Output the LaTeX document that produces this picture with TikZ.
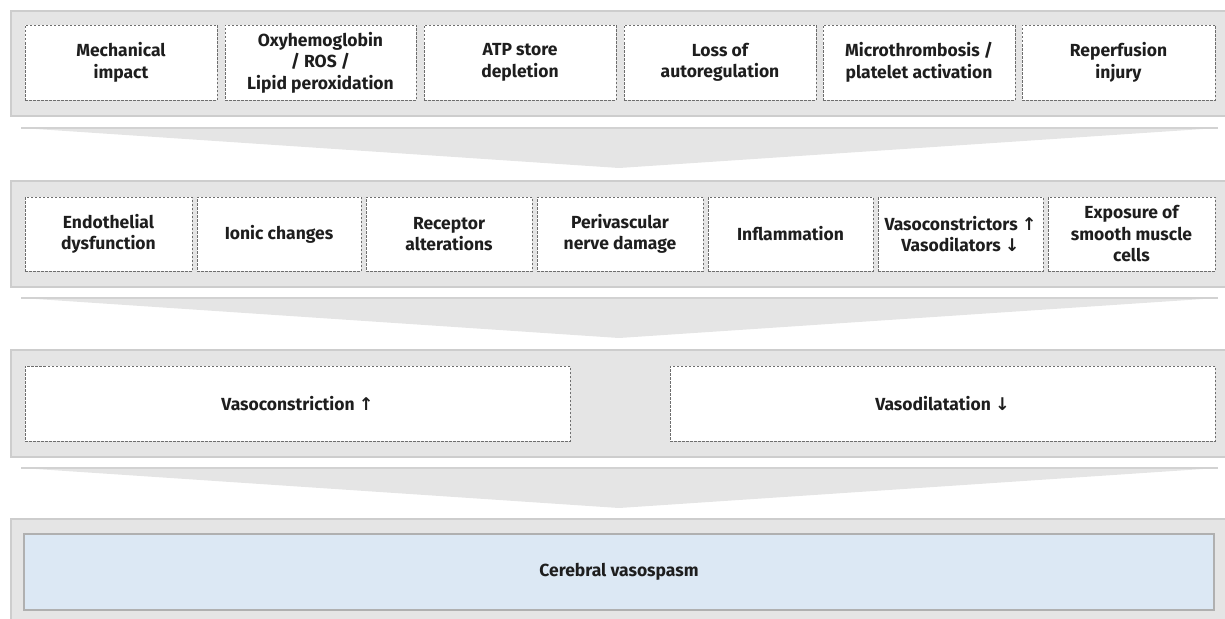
\documentclass[tikz,border=0pt]{standalone}
\usepackage{fontspec}
\setmainfont{Fira Sans}
\newfontfamily\arrowfont{DejaVu Sans}
\begin{document}
\begin{tikzpicture}[x=1pt,y=-1pt,
  panel/.style={fill=panelgray,draw=panelline,line width=1.2pt},
  cbox/.style={draw=dashgray,dashed,dash pattern=on 2.5pt off 1.5pt,fill=white,line width=0.9pt,
    align=center,text=textdark,font=\bfseries\fontsize{17.5}{21.5}\selectfont,inner sep=1pt},
  endbox/.style={draw=endline,fill=endblue,line width=1.2pt,align=center,text=textdark,
    font=\bfseries\fontsize{17.5}{21.5}\selectfont},
  funnel/.style={fill=panelgray},
  funneledge/.style={draw=funnelline,line width=1.2pt}]
\definecolor{panelgray}{HTML}{E5E5E5}
\definecolor{panelline}{HTML}{CDCDCD}
\definecolor{dashgray}{HTML}{6E6E6E}
\definecolor{endblue}{HTML}{DCE8F4}
\definecolor{endline}{HTML}{B0B0B0}
\definecolor{funnelline}{HTML}{D2D2D2}
\definecolor{textdark}{HTML}{1E1E1E}
\useasboundingbox (0,0) rectangle (1225,618);
\clip (0,0) rectangle (1225,618);

% background panels for the four levels
\draw[panel] (11,11) rectangle (1240,116);
\draw[panel] (11,181) rectangle (1240,287);
\draw[panel] (11,350) rectangle (1240,457);
\draw[panel] (11,519) rectangle (1240,640);

% funnels between levels
\foreach \t in {128,298,468}{
  \fill[funnel] (21,\t) -- (1218,\t) -- (619,\t+40) -- cycle;
  \draw[funneledge] (21,\t) -- (1218,\t);
}

% level 1: triggers
\node[cbox,minimum width=192pt,minimum height=75pt] (mech) at (121,62.5) {Mechanical\\impact};
\node[cbox,minimum width=191pt,minimum height=75pt] (oxy)  at (320.5,62.5) {Oxyhemoglobin\\/ ROS /\\Lipid peroxidation};
\node[cbox,minimum width=192pt,minimum height=75pt] (atp)  at (520,62.5) {ATP store\\depletion};
\node[cbox,minimum width=192pt,minimum height=75pt] (auto) at (720,62.5) {Loss of\\autoregulation};
\node[cbox,minimum width=192pt,minimum height=75pt] (micro) at (919,62.5) {Microthrombosis /\\platelet activation};
\node[cbox,minimum width=193pt,minimum height=75pt] (rep)  at (1118.5,62.5) {Reperfusion\\injury};

% level 2: mechanisms
\node[cbox,minimum width=167pt,minimum height=74pt] (endo) at (108.5,234) {Endothelial\\dysfunction};
\node[cbox,minimum width=164pt,minimum height=74pt] (ion)  at (279,234) {Ionic changes};
\node[cbox,minimum width=166pt,minimum height=74pt] (rec)  at (449,234) {Receptor\\alterations};
\node[cbox,minimum width=166pt,minimum height=74pt] (peri) at (620,234) {Perivascular\\nerve damage};
\node[cbox,minimum width=165pt,minimum height=74pt] (infl) at (790.5,234) {Inflammation};
\node[cbox,minimum width=165pt,minimum height=74pt] (vaso) at (960.5,234) {Vasoconstrictors {\arrowfont ↑}\\Vasodilators {\arrowfont ↓}};
\node[cbox,minimum width=167pt,minimum height=74pt] (smc)  at (1131.5,234) {Exposure of\\smooth muscle\\cells};

% level 3: vascular tone
\node[cbox,minimum width=545pt,minimum height=75pt] (con) at (297.5,403.5) {Vasoconstriction {\arrowfont ↑}};
\node[cbox,minimum width=545pt,minimum height=75pt] (dil) at (942.5,403.5) {Vasodilatation {\arrowfont ↓}};

% level 4: outcome
\node[endbox,minimum width=1190pt,minimum height=76pt] (spasm) at (619,572) {Cerebral vasospasm};
\end{tikzpicture}
\end{document}
